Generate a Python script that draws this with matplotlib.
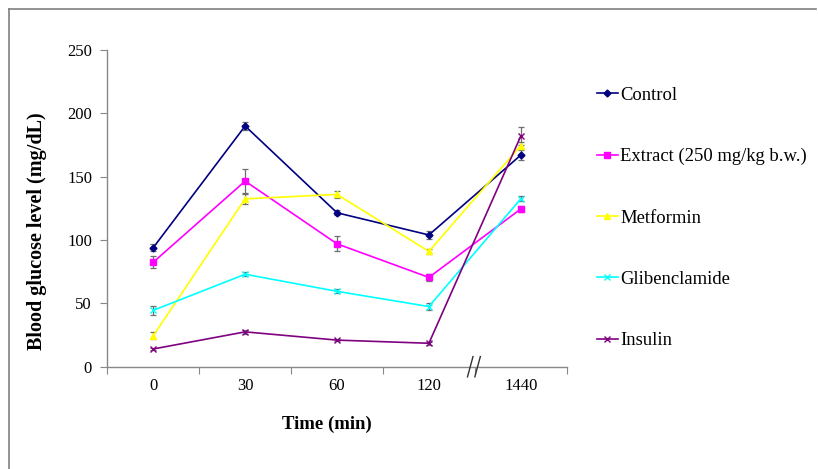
import numpy as np
import matplotlib.pyplot as plt
from matplotlib.lines import Line2D

plt.rcParams['font.family'] = ['Liberation Serif', 'DejaVu Serif']

# x categories (time in min), drawn at equal spacing with a break before 1440
times = ["0", "30", "60", "120", "1440"]

control = [94, 190, 121.5, 104, 167]
control_err = [3, 3, 2, 3, 4]
extract = [82.5, 146.5, 97, 70.5, 124.5]
extract_err = [4.5, 9.5, 6, 3, 2]
metformin = [24.5, 132.5, 136, 91, 174.5]
metformin_err = [3, 4, 3, 2, 3]
gliben = [44.5, 73, 59.5, 47.5, 132.5]
gliben_err = [3.5, 1.5, 1.5, 3, 2]
insulin = [14, 27.5, 21, 18.5, 182]
insulin_err = [1, 1.5, 1, 1, 7]

labels = ["Control", "Extract (250 mg/kg b.w.)", "Metformin", "Glibenclamide", "Insulin"]
series = [control, extract, metformin, gliben, insulin]
errors = [control_err, extract_err, metformin_err, gliben_err, insulin_err]
colors = ["#000080", "#FF00FF", "#FFFF00", "#00FFFF", "#800080"]
markers = ["D", "s", "^", "x", "x"]
msizes = [3.5, 5, 4.5, 4.5, 4.5]

fig = plt.figure(figsize=(8.18, 4.69), dpi=100)
ax = fig.add_axes([0.1312, 0.2181, 0.5616, 0.6753])

x = np.arange(len(times))
handles = []
for i in range(len(series)):
    ax.errorbar(x, series[i], yerr=errors[i], fmt='none', ecolor="#6e6e6e",
                elinewidth=0.9, capsize=2.5, capthick=0.9, zorder=2)
    h, = ax.plot(x, series[i], color=colors[i], marker=markers[i], markersize=msizes[i],
                 linewidth=1.2, markeredgewidth=1.0, zorder=3, label=labels[i])
    handles.append(h)

ax.set_xlim(-0.5, 4.5)
ax.set_ylim(0, 250)
ax.set_yticks([0, 50, 100, 150, 200, 250])

# major ticks on category boundaries, labels in the middle
ax.set_xticks(np.arange(-0.5, 4.6, 1.0))
ax.set_xticklabels([])
ax.set_xticks(x, minor=True)
ax.set_xticklabels(times, minor=True)
ax.tick_params(axis='x', which='minor', length=0, pad=8, labelsize=12)
ax.tick_params(axis='x', which='major', length=5, color="#888888", direction='out')
ax.tick_params(axis='y', length=5, color="#888888", labelsize=12, pad=6)

for s in ['top', 'right']:
    ax.spines[s].set_visible(False)
for s in ['left', 'bottom']:
    ax.spines[s].set_color("#888888")
    ax.spines[s].set_linewidth(1.0)

# axis break marks "//"
trans = ax.get_xaxis_transform()
for dx in (-0.05, 0.03):
    ax.plot([3.47 + dx, 3.53 + dx], [-0.032, 0.032], transform=trans,
            color="#333333", linewidth=1.0, clip_on=False, zorder=5)

ax.set_xlabel("Time (min)", fontsize=13.5, fontweight='bold')
ax.xaxis.set_label_coords(0.479, -0.156)
ax.set_ylabel("Blood glucose level (mg/dL)", fontsize=14.5, fontweight='bold')
ax.yaxis.set_label_coords(-0.131, 0.428)

leg = fig.legend(handles=handles, loc='upper left', bbox_to_anchor=(0.721, 0.831),
                 frameon=False, fontsize=13.4, handlelength=1.1, handletextpad=0.15,
                 labelspacing=2.38, borderaxespad=0)

# grey frame around the figure (top and left)
fig.add_artist(Line2D([9 / 818, 9 / 818], [0, 1 - 9 / 469], color="#808080", linewidth=1.2))
fig.add_artist(Line2D([9 / 818, 816 / 818], [1 - 9 / 469, 1 - 9 / 469], color="#808080", linewidth=1.2))

fig.savefig("out.png", dpi=100)
